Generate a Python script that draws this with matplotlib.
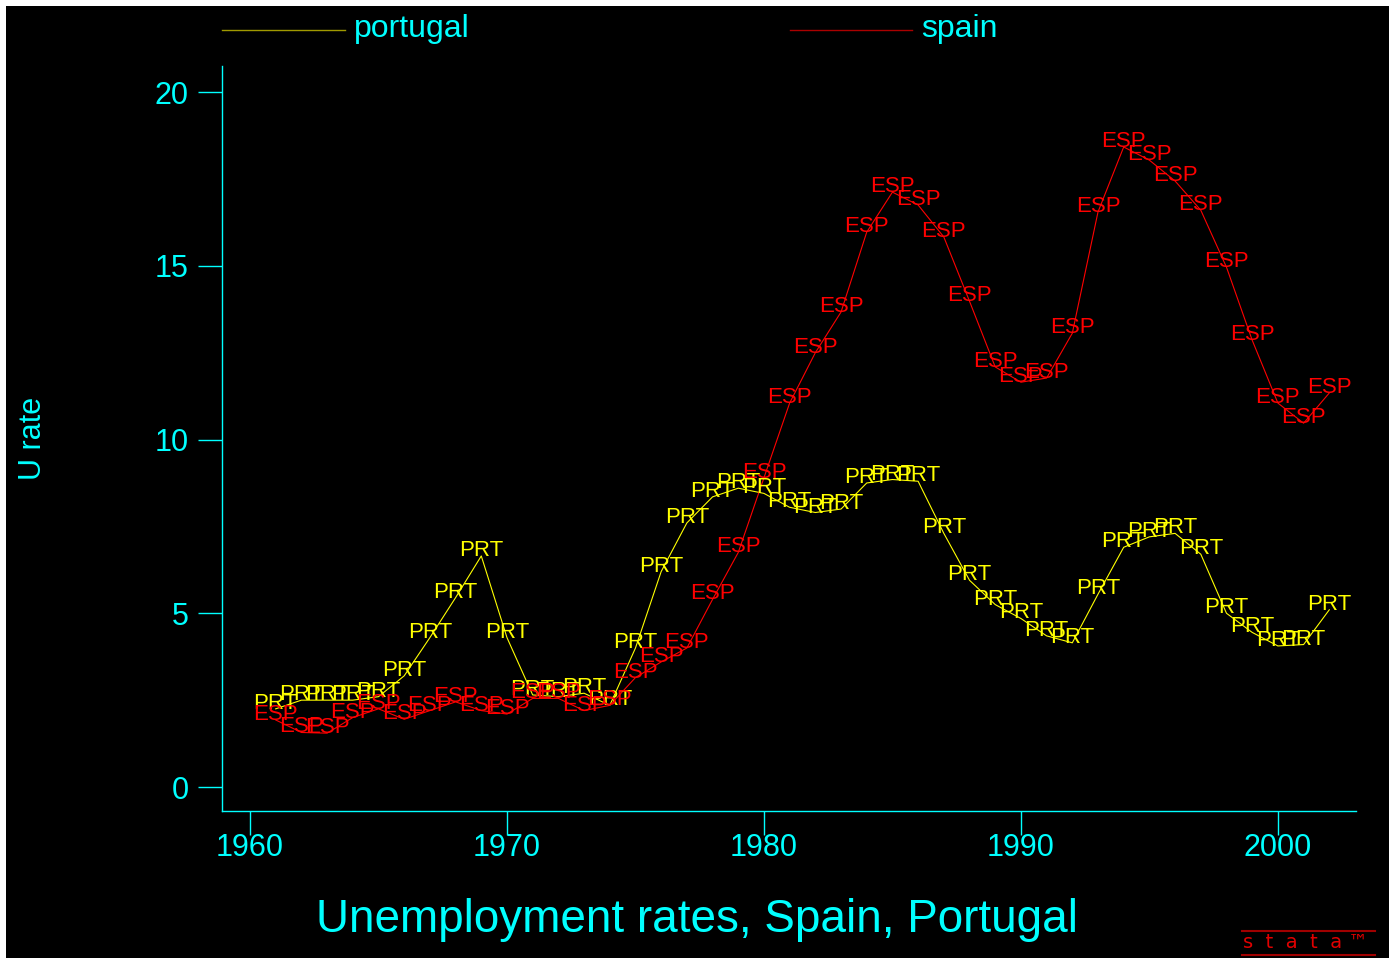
import matplotlib
matplotlib.use("Agg")
import matplotlib.pyplot as plt
from matplotlib.lines import Line2D
from matplotlib.patches import Rectangle

plt.rcParams['font.family'] = ['Liberation Sans', 'DejaVu Sans']

years = list(range(1961, 2003))

# unemployment rates
portugal = [2.25, 2.5, 2.5, 2.5, 2.6, 3.2, 4.3, 5.45, 6.65, 4.3,
            2.65, 2.6, 2.7, 2.35, 4.0, 6.2, 7.6, 8.35, 8.6, 8.45,
            8.05, 7.9, 8.0, 8.75, 8.85, 8.8, 7.3, 5.95, 5.25, 4.85,
            4.35, 4.15, 5.55, 6.9, 7.2, 7.3, 6.7, 5.0, 4.45, 4.06,
            4.1, 5.1]
spain = [1.93, 1.57, 1.55, 2.0, 2.25, 1.95, 2.2, 2.45, 2.2, 2.1,
         2.55, 2.55, 2.2, 2.35, 3.15, 3.6, 4.0, 5.4, 6.75, 8.9,
         11.05, 12.5, 13.67, 15.97, 17.12, 16.75, 15.83, 13.98, 12.09, 11.65,
         11.77, 13.06, 16.55, 18.42, 18.04, 17.44, 16.6, 14.96, 12.86, 11.05,
         10.47, 11.34]

cyan = '#00ffff'

fig = plt.figure(figsize=(13.95, 9.64), dpi=100, facecolor='white')
# black plot region inside a thin white frame
fig.add_artist(Rectangle((6 / 1395, 6 / 964), 1383 / 1395, 952 / 964,
                         transform=fig.transFigure, facecolor='black',
                         edgecolor='none', zorder=0))

ax = fig.add_axes([222 / 1395, 1 - 811 / 964, 1134 / 1395, 745 / 964])
ax.set_facecolor('none')

ax.plot(years, portugal, color='#ffff00', lw=0.8)
ax.plot(years, spain, color='#ff0000', lw=0.8)
for yr, v in zip(years, portugal):
    ax.text(yr, v, 'PRT', color='#ffff00', fontsize=16, ha='center', va='baseline')
for yr, v in zip(years, spain):
    ax.text(yr, v, 'ESP', color='#ff0000', fontsize=16, ha='center', va='baseline')

ax.set_xlim(1958.91, 2003.04)
ax.set_ylim(-0.69, 20.75)
ax.set_xticks([1960, 1970, 1980, 1990, 2000])
ax.set_yticks([0, 5, 10, 15, 20])
for s in ['top', 'right']:
    ax.spines[s].set_visible(False)
for s in ['left', 'bottom']:
    ax.spines[s].set_color(cyan)
    ax.spines[s].set_linewidth(1)
ax.tick_params(colors=cyan, labelsize=22, length=17, width=1)
ax.tick_params(axis='y', pad=7)
ax.tick_params(axis='x', pad=-1)

ax.set_ylabel('U rate', color=cyan, fontsize=22)
ax.yaxis.set_label_coords(-0.1535, 0.5)

fig.text(0.5, 1 - 920 / 964, 'Unemployment rates, Spain, Portugal',
         color=cyan, fontsize=33, ha='center', va='center')

# legend across the top
ly = 1 - 30 / 964
fig.add_artist(Line2D([222 / 1395, 345 / 1395], [ly, ly], color='#a09a00', lw=1))
fig.text(354 / 1395, 1 - 29 / 964, 'portugal', color=cyan, fontsize=23, va='center')
fig.add_artist(Line2D([790 / 1395, 912 / 1395], [ly, ly], color='#aa0000', lw=1))
fig.text(921 / 1395, 1 - 29 / 964, 'spain', color=cyan, fontsize=23, va='center')

# stata mark
fig.add_artist(Line2D([1242 / 1395, 1375 / 1395], [1 - 931 / 964] * 2, color='#a00000', lw=1.5))
fig.add_artist(Line2D([1242 / 1395, 1375 / 1395], [1 - 955 / 964] * 2, color='#a00000', lw=1.5))
fig.text(1243 / 1395, 1 - 943 / 964, 's  t  a  t  a ™', color='#e00000', fontsize=14,
         family=['DejaVu Sans'], va='center')

fig.savefig('out.png', dpi=100, facecolor='white')
